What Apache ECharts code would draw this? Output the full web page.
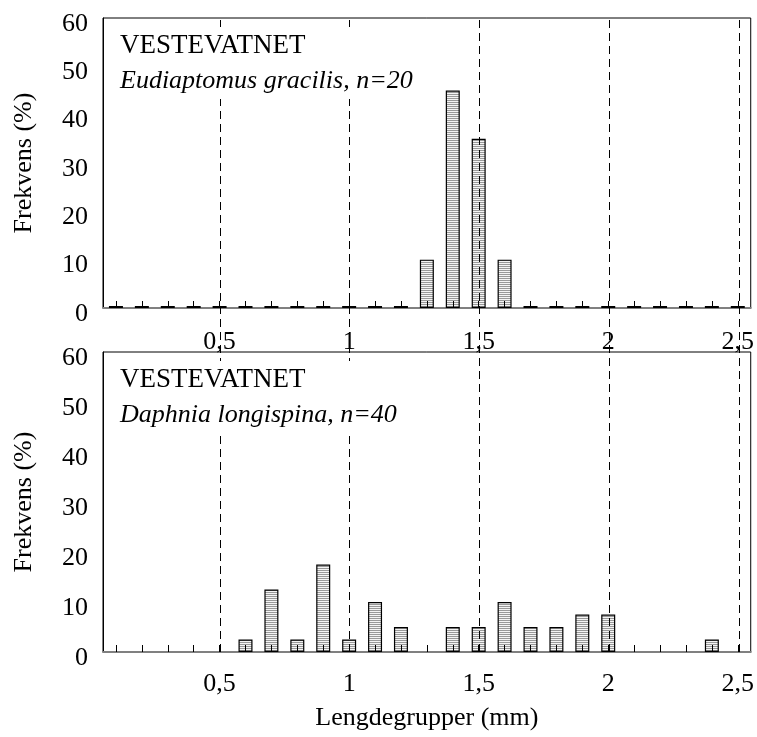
<!DOCTYPE html>
<html>
<head>
<meta charset="utf-8">
<title>Vestevatnet - lengdegrupper</title>
<script src="https://cdn.jsdelivr.net/npm/echarts@6/dist/echarts.min.js"></script>
<style>
  html, body { margin: 0; padding: 0; background: #fff; }
  #chart { width: 757px; height: 737px; }
</style>
</head>
<body>
<div id="chart"></div>
<script>
// lengdegrupper (mm), en kategori per 0,1 mm
var categories = ['0.1', '0.2', '0.3', '0.4', '0.5', '0.6', '0.7', '0.8', '0.9', '1.0',
  '1.1', '1.2', '1.3', '1.4', '1.5', '1.6', '1.7', '1.8', '1.9', '2.0',
  '2.1', '2.2', '2.3', '2.4', '2.5']

// frekvens (%) - Eudiaptomus gracilis, n=20
var eudiaptomus = [0, 0, 0, 0, 0, 0, 0, 0, 0, 0,
  0, 0, 10, 45, 35, 10, 0, 0, 0, 0,
  0, 0, 0, 0, 0]

// frekvens (%) - Daphnia longispina, n=40 ('-' = ingen data)
var daphnia = ['-', '-', '-', '-', '-', 2.5, 12.5, 2.5, 17.5, 2.5,
  10, 5, '-', 5, 5, 10, 5, 5, 7.5, 7.5,
  '-', '-', '-', 2.5, '-']

var dashedAt = ['0.5', '1.0', '1.5', '2.0', '2.5']
var panelTitles = ['VESTEVATNET', 'VESTEVATNET']
var panelSpecies = ['Eudiaptomus gracilis, n=20', 'Daphnia longispina, n=40']

var FONT = '"Liberation Serif", "Times New Roman", serif'

// horisontal skravur i søylene
function hatch() {
  var c = document.createElement('canvas')
  c.width = 4
  c.height = 2
  var ctx = c.getContext('2d')
  ctx.fillStyle = '#f4f4f4'
  ctx.fillRect(0, 0, 4, 2)
  ctx.fillStyle = '#999999'
  ctx.fillRect(0, 0, 4, 1)
  return c
}
var pattern = { image: hatch(), repeat: 'repeat' }

function fmtLabel(v) {
  return String(parseFloat(v)).replace('.', ',')
}

var grids = [
  { left: 103, right: 5, top: 18, height: 290 },
  { left: 103, right: 5, top: 352, height: 300 }
]

var xAxes = []
var yAxes = []
var series = []
var graphics = []
var seriesData = [eudiaptomus, daphnia]

grids.forEach(function(g, i) {
  g.show = true
  g.borderColor = '#000'
  g.borderWidth = 1
  // grunnakse: bare grå linje
  xAxes.push({
    type: 'category',
    gridIndex: i,
    position: 'bottom',
    data: categories,
    z: 0,
    axisLine: { lineStyle: { color: '#808080', width: 2 } },
    axisTick: { show: false },
    axisLabel: { show: false },
    splitLine: { show: false }
  })
  // akse for merker og tekst, tegnes over søylene
  xAxes.push({
    type: 'category',
    gridIndex: i,
    position: 'bottom',
    data: categories,
    z: 5,
    name: i === 1 ? 'Lengdegrupper (mm)' : '',
    nameLocation: 'middle',
    nameGap: 53,
    nameTextStyle: { fontFamily: FONT, fontSize: 26, color: '#000' },
    axisLine: { show: false },
    axisTick: {
      show: true,
      inside: true,
      alignWithLabel: true,
      interval: 0,
      length: 7,
      lineStyle: { color: '#000', width: 1 }
    },
    axisLabel: {
      interval: function(idx) { return (idx + 1) % 5 === 0 },
      formatter: fmtLabel,
      margin: i === 0 ? 21 : 19,
      fontFamily: FONT,
      fontSize: 26,
      color: '#000'
    },
    splitLine: { show: false }
  })
  yAxes.push({
    type: 'value',
    gridIndex: i,
    min: 0,
    max: 60,
    interval: 10,
    name: 'Frekvens (%)',
    nameLocation: 'middle',
    nameGap: 66,
    nameTextStyle: { fontFamily: FONT, fontSize: 26, color: '#000' },
    axisLine: { show: true, lineStyle: { color: '#000', width: 1 } },
    axisTick: { show: false },
    splitLine: { show: false },
    axisLabel: {
      margin: 15,
      formatter: '{v|{value}}',
      rich: {
        v: { fontFamily: FONT, fontSize: 26, color: '#000', padding: [12, 0, 0, 0] }
      }
    }
  })
  series.push({
    type: 'bar',
    xAxisIndex: i * 2,
    yAxisIndex: i,
    data: seriesData[i],
    barWidth: 14,
    barMinHeight: i === 0 ? 2 : 0,
    z: 2,
    itemStyle: { color: pattern, borderColor: '#000', borderWidth: 1.2 },
    emphasis: { disabled: true }
  })

  // tekstboks med hvit bakgrunn
  var top = g.top
  graphics.push({
    type: 'rect',
    z: 10,
    shape: { x: 113, y: top + 9, width: 314, height: 72 },
    style: { fill: '#fff' }
  })
  graphics.push({
    type: 'text',
    z: 11,
    x: 120,
    y: top + 28,
    style: {
      text: panelTitles[i],
      font: '27px ' + FONT,
      fill: '#000',
      verticalAlign: 'middle'
    }
  })
  graphics.push({
    type: 'text',
    z: 11,
    x: 120,
    y: top + 63,
    style: {
      text: panelSpecies[i],
      font: 'italic 26px ' + FONT,
      fill: '#000',
      verticalAlign: 'middle'
    }
  })
})

// stiplede linjer gjennom begge paneler
grids.push({ left: 103, right: 5, top: 18, height: 634, show: false })
xAxes.push({ type: 'category', gridIndex: 2, data: categories, show: false })
yAxes.push({ type: 'value', gridIndex: 2, min: 0, max: 1, show: false })
series.push({
  type: 'bar',
  xAxisIndex: 4,
  yAxisIndex: 2,
  data: categories.map(function() { return '-' }),
  z: 3,
  markLine: {
    silent: true,
    symbol: 'none',
    label: { show: false },
    lineStyle: { color: '#000', width: 1, type: [8, 5] },
    data: dashedAt.map(function(v) { return { xAxis: v } })
  }
})

var chart = echarts.init(document.getElementById('chart'))
chart.setOption({
  animation: false,
  backgroundColor: '#fff',
  grid: grids,
  xAxis: xAxes,
  yAxis: yAxes,
  series: series,
  graphic: graphics
})
window.addEventListener('resize', function() {
  chart.resize()
})
</script>
</body>
</html>
